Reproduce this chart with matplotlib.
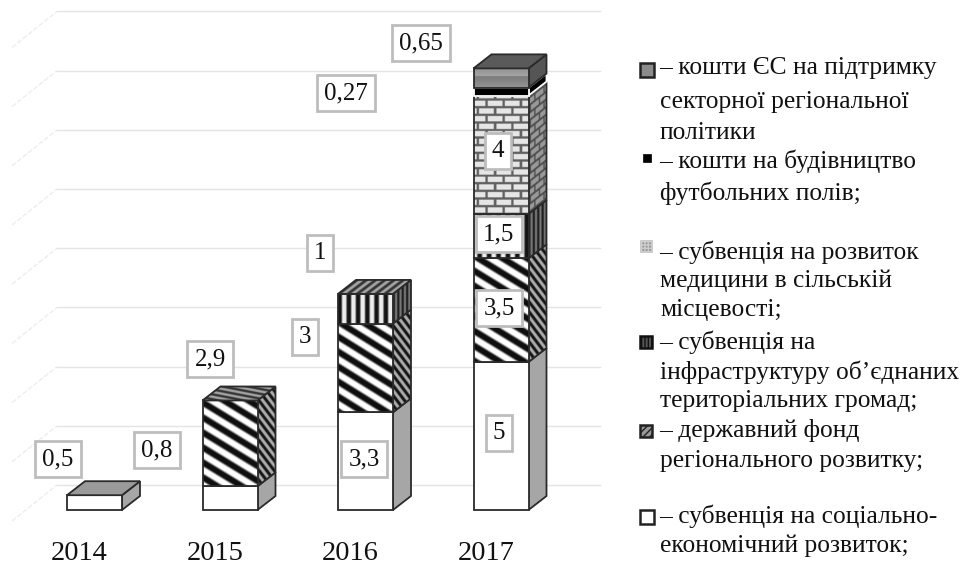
#!/usr/bin/env python3
import numpy as np
import matplotlib
matplotlib.use('Agg')
import matplotlib.pyplot as plt
from matplotlib.patches import Polygon, Rectangle

plt.rcParams['font.family'] = ['Liberation Serif', 'DejaVu Serif']

# data
years = ['2014', '2015', '2016', '2017']
social = [0.5, 0.8, 3.3, 5]
regional_fund = [0, 2.9, 3, 3.5]
infrastructure = [0, 0, 1, 1.5]
medicine = [0, 0, 0, 4]
football = [0, 0, 0, 0.27]
eu_funds = [0, 0, 0, 0.65]
grid_values = [0, 2, 4, 6, 8, 10, 12, 14, 16]

legend_lines = [
    ('– кошти ЄС на підтримку', 68), ('секторної регіональної', 102), ('політики', 133),
    ('– кошти на будівництво', 161), ('футбольних полів;', 193),
    ('– субвенція на розвиток', 252), ('медицини в сільській', 281), ('місцевості;', 310),
    ('– субвенція на', 342), ('інфраструктуру об’єднаних', 372), ('територіальних громад;', 401),
    ('– державний фонд', 431), ('регіонального розвитку;', 461),
    ('– субвенція на соціально-', 516), ('економічний розвиток;', 546),
]

W, H = 971, 567
PX_PER_CAT = 135.5
PX_PER_VAL = 29.6
X0 = 94.5   # pixel x of first category
Y0 = 510    # pixel y of value 0
BAR_W = 55 / PX_PER_CAT
DX = 18 / PX_PER_CAT
DY = 14 / PX_PER_VAL


def px_x(x):
    return X0 + np.asarray(x) * PX_PER_CAT


def px_y(y):
    return Y0 - np.asarray(y) * PX_PER_VAL


# textures, u and v are pixels, v going down
def stripes(t, sharp=1.0):
    return np.clip(0.5 + sharp * np.cos(2 * np.pi * t), 0, 1)


def tex_diag(u, v):
    return 0.06 + 0.94 * stripes((v - 0.62 * u) / 15.0)


def tex_diag_side(u, v):
    return 0.08 + 0.6 * stripes((v - 1.3 * u) / 10.0)


def tex_diag_top(u, v):
    return 0.2 + 0.45 * stripes((v - 0.2 * u) / 5.0)


def tex_vert(u, v):
    return 0.08 + 0.85 * stripes(u / 9.3, 0.9)


def tex_vert_side(u, v):
    return 0.12 + 0.35 * stripes(u / 4.5, 0.9)


def tex_vert_top(u, v):
    return 0.2 + 0.45 * stripes((u + 1.3 * v) / 9.3, 0.9)


def tex_brick(u, v, row=7.6, brick=17.0, light=0.9, dark=0.38):
    rows = np.floor(v / row)
    fv = v / row - rows
    fu = ((u + (rows % 2) * brick / 2) / brick) % 1
    g = np.full(u.shape, light)
    g[(fv < 0.3) | (fu < 0.14)] = dark
    return g


def tex_brick_side(u, v):
    return tex_brick(u * 1.8, v + 0.78 * u, row=7.6, brick=17.0, light=0.6, dark=0.3)


def textured(ax, verts, tex, zorder):
    # fill a polygon with a grey texture, sampled in pixels
    verts = np.asarray(verts)
    x0, x1 = verts[:, 0].min(), verts[:, 0].max()
    y0, y1 = verts[:, 1].min(), verts[:, 1].max()
    nx = int((x1 - x0) * PX_PER_CAT * 3) + 2
    ny = int((y1 - y0) * PX_PER_VAL * 3) + 2
    xs = np.linspace(x0, x1, nx)
    ys = np.linspace(y1, y0, ny)
    xx, yy = np.meshgrid(xs, ys)
    img = ax.imshow(tex(px_x(xx), px_y(yy)), cmap='gray', vmin=0, vmax=1, aspect='auto',
                    extent=(x0, x1, y0, y1), origin='upper', zorder=zorder,
                    interpolation='bilinear')
    poly = Polygon(verts, closed=True, transform=ax.transData, fc='none', ec='none')
    ax.add_patch(poly)
    img.set_clip_path(poly)


def face(ax, verts, fill, zorder, edge='#2a2a2a', lw=1.3):
    if callable(fill):
        textured(ax, verts, fill, zorder)
        fill = 'none'
    ax.add_patch(Polygon(verts, closed=True, fc=fill, ec=edge, lw=lw, zorder=zorder + 0.1,
                         joinstyle='miter'))


def gradient(u, v):
    return 0.48 + 0.16 * ((v % 19) / 19.0)


series = [
    (social, 'white', '#a6a6a6', '#9a9a9a'),
    (regional_fund, tex_diag, tex_diag_side, tex_diag_top),
    (infrastructure, tex_vert, tex_vert_side, tex_vert_top),
    (medicine, tex_brick, tex_brick_side, '#777777'),
    (football, 'black', 'black', 'black'),
    (eu_funds, gradient, '#555555', '#5a5a5a'),
]

# label boxes, pixel centres in the order of the values
label_px = {
    0: [(58, 459), (157, 450), (364, 459), (499, 433)],
    1: [None, (210, 359), (305, 337), (499, 308)],
    2: [None, None, (320, 253), (499, 234)],
    3: [None, None, None, (498, 151)],
    4: [None, None, None, (346, 93)],
    5: [None, None, None, (421, 43)],
}

fig = plt.figure(figsize=(W / 100, H / 100), dpi=100)
ax = fig.add_axes([0, 0, 1, 1])
ax.axis('off')

# walls: back grid lines and floor diagonals
grid_dx = 45 / PX_PER_CAT
grid_dy = 36 / PX_PER_VAL
back_x = -37.5 / PX_PER_CAT
back_y = 25 / PX_PER_VAL
right_x = (600 - X0) / PX_PER_CAT
for g in grid_values:
    y = g + back_y
    ax.plot([back_x, right_x], [y, y], color='#e4e4e4', lw=1.0, zorder=1)
    ax.plot([back_x - grid_dx, back_x], [y - grid_dy, y], color='#ececec', lw=0.9,
            ls=(0, (4, 1.5)), zorder=1)

# bars
for i in range(len(years)):
    left = i - BAR_W / 2
    right = i + BAR_W / 2
    bottom = 0
    top_series = max(s for s in range(len(series)) if series[s][0][i] > 0)
    for s, (vals, front, side, top) in enumerate(series):
        v = vals[i]
        if v <= 0:
            continue
        z = 3 + s
        edge = 'white' if vals is football else '#2a2a2a'
        face(ax, [(right, bottom), (right + DX, bottom + DY), (right + DX, bottom + v + DY),
                  (right, bottom + v)], side, z, edge=edge)
        face(ax, [(left, bottom), (right, bottom), (right, bottom + v), (left, bottom + v)],
             front, z + 0.2, edge=edge)
        if s == top_series:
            t = bottom + v
            face(ax, [(left, t), (right, t), (right + DX, t + DY), (left + DX, t + DY)],
                 top, z + 0.4)
        bottom += v

# value labels
for s, (vals, *_rest) in enumerate(series):
    for i, v in enumerate(vals):
        pos = label_px[s][i]
        if pos is None:
            continue
        fig.text(pos[0] / W, 1 - pos[1] / H, f'{v:g}'.replace('.', ','), fontsize=18,
                 ha='center', va='center', color='#111111', zorder=20,
                 bbox=dict(boxstyle='square,pad=0.28', fc='white', ec='#bdbdbd', lw=2))

# year labels sit a bit left of the bars
for i, year in enumerate(years):
    ax.text(i - 15 / PX_PER_CAT, (Y0 - 553) / PX_PER_VAL, year, fontsize=20.5, ha='center',
            va='center', color='#111111')

# hand made legend
for text, y in legend_lines:
    x = 659 if text.startswith('–') else 660
    fig.text(x / W, 1 - y / H, text, fontsize=18.4, ha='left', va='center', color='#111111')

markers = [
    (640, 63, 14, '#8c8c8c', '#222222', 1.8),
    (643, 154, 8, 'black', 'black', 0.5),
    (640, 240, 12, '#999999', '#cccccc', 0.5),
    (640, 336, 12, '#555555', '#111111', 1.8),
    (640, 425, 12, '#999999', '#222222', 1.8),
    (640, 510, 14, 'white', '#222222', 1.8),
]
for mx, my, size, fc, ec, lw in markers:
    hatch = '+++++' if my == 240 else ('|||||' if my == 336 else ('/////' if my == 425 else None))
    fig.add_artist(Rectangle((mx / W, 1 - (my + size) / H), size / W, size / H, fc=fc, ec=ec,
                             lw=lw, hatch=hatch, transform=fig.transFigure))

ax.set_xlim(-X0 / PX_PER_CAT, (W - X0) / PX_PER_CAT)
ax.set_ylim((Y0 - H) / PX_PER_VAL, Y0 / PX_PER_VAL)

fig.savefig('out.png', dpi=100)
